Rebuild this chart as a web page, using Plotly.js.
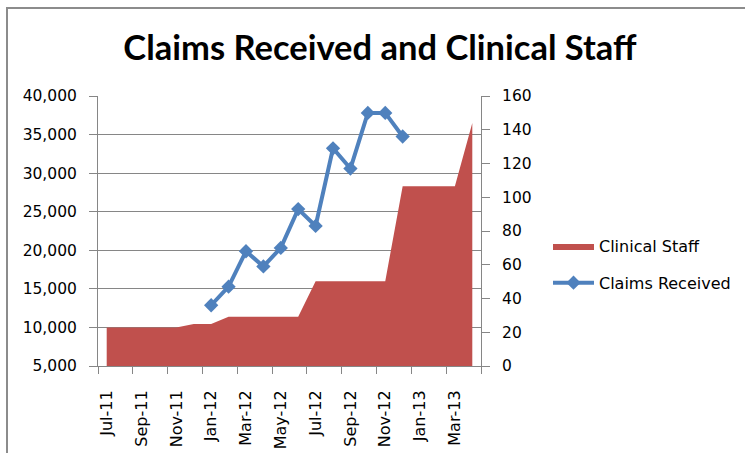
<!DOCTYPE html>
<html><head><meta charset="utf-8">
<script src="https://cdn.plot.ly/plotly-3.0.1.min.js"></script>
<style>
html,body{margin:0;padding:0;background:#fff;width:745px;height:453px;overflow:hidden;}
#frame{position:absolute;left:6px;top:7px;width:760px;height:470px;border-left:2px solid #8c8c8c;border-top:2px solid #8c8c8c;}
#chart{position:absolute;left:0;top:0;width:745px;height:453px;}
</style></head><body>
<div id="frame"></div>
<div id="chart"></div>
<script>
// ---- data ----
var months = ['Jul-11','Aug-11','Sep-11','Oct-11','Nov-11','Dec-11',
  'Jan-12','Feb-12','Mar-12','Apr-12','May-12','Jun-12','Jul-12','Aug-12','Sep-12','Oct-12','Nov-12','Dec-12',
  'Jan-13','Feb-13','Mar-13','Apr-13'];
var clinicalStaff = [10000,10000,10000,10000,10000,10450,10450,11400,11400,11400,11400,11400,
  16000,16000,16000,16000,16000,28300,28300,28300,28300,36500];
var claimsReceived = [null,null,null,null,null,null,36,47,68,59,70,93,83,129,117,150,150,136,null,null,null,null];
var leftTicks = [5000,10000,15000,20000,25000,30000,35000,40000];
var rightTicks = [0,20,40,60,80,100,120,140,160];

// ---- derived ----
var idx = months.map(function(_, i){ return i; });
var labelIdx = idx.filter(function(i){ return i % 2 === 0; });
var labelText = labelIdx.map(function(i){ return months[i]; });
var bounds = [];
for (var b = 0; b <= months.length; b += 2) bounds.push(b - 0.5);

var tickFont = {family:'DejaVu Sans', size:15.5, color:'#000'};
var grey = '#868686';

var traces = [
  {x: idx, y: clinicalStaff, name: 'Clinical Staff', type: 'scatter', mode: 'lines',
   fill: 'tozeroy', fillcolor: '#C0504D', line: {width: 0, color: '#C0504D'},
   xaxis: 'x', yaxis: 'y', legendgroup: 'a', hoverinfo: 'x+y'},
  {x: idx, y: claimsReceived, name: 'Claims Received', type: 'scatter', mode: 'lines+markers',
   line: {color: '#4F81BD', width: 4}, marker: {symbol: 'diamond', size: 11, color: '#4F81BD'},
   xaxis: 'x', yaxis: 'y2', legendgroup: 'b', connectgaps: false}
];

var layout = {
  width: 745, height: 453,
  margin: {l: 98, r: 264, t: 96, b: 87, pad: 0},
  paper_bgcolor: 'rgba(0,0,0,0)', plot_bgcolor: 'rgba(0,0,0,0)',
  title: {text: 'Claims Received and Clinical Staff', font: {family: 'Lato', size: 34.5, weight: 700, color: '#000'},
          x: 380/745, xanchor: 'center', y: 1 - 48/453, yanchor: 'middle'},
  showlegend: true,
  legend: {xref: 'container', yref: 'container', x: 548/745, y: 1 - 229/453, yanchor: 'top', xanchor: 'left',
           font: {family: 'DejaVu Sans', size: 16, color: '#000'}, itemwidth: 41, tracegroupgap: 13,
           bgcolor: 'rgba(0,0,0,0)'},
  xaxis: {range: [-0.5, months.length - 0.5], tickmode: 'array', tickvals: labelIdx, ticktext: labelText,
          tickangle: -90, ticks: '', showline: true, linecolor: grey, linewidth: 1, showgrid: false, zeroline: false,
          tickfont: {family:'DejaVu Sans', size:16, color:'#000'}, ticklabelstandoff: 17,
          minor: {tickmode: 'array', tickvals: bounds, ticks: 'outside', ticklen: 7, tickcolor: grey, tickwidth: 1, showgrid: false}},
  yaxis: {range: [5000, 40000], tickmode: 'array', tickvals: leftTicks, tickformat: ',d', ticks: 'outside', ticklen: 8,
          tickcolor: grey, showline: true, linecolor: grey, showgrid: true, gridcolor: grey, gridwidth: 1, zeroline: false,
          tickfont: tickFont, ticklabelstandoff: 9},
  yaxis2: {overlaying: 'y', side: 'right', range: [0, 160], tickmode: 'array', tickvals: rightTicks, ticks: 'outside', ticklen: 8,
           tickcolor: grey, showline: true, linecolor: grey, showgrid: false, zeroline: false,
           tickfont: tickFont, ticklabelstandoff: 9}
};

Plotly.newPlot('chart', traces, layout, {staticPlot: true, displayModeBar: false});
</script></body></html>
